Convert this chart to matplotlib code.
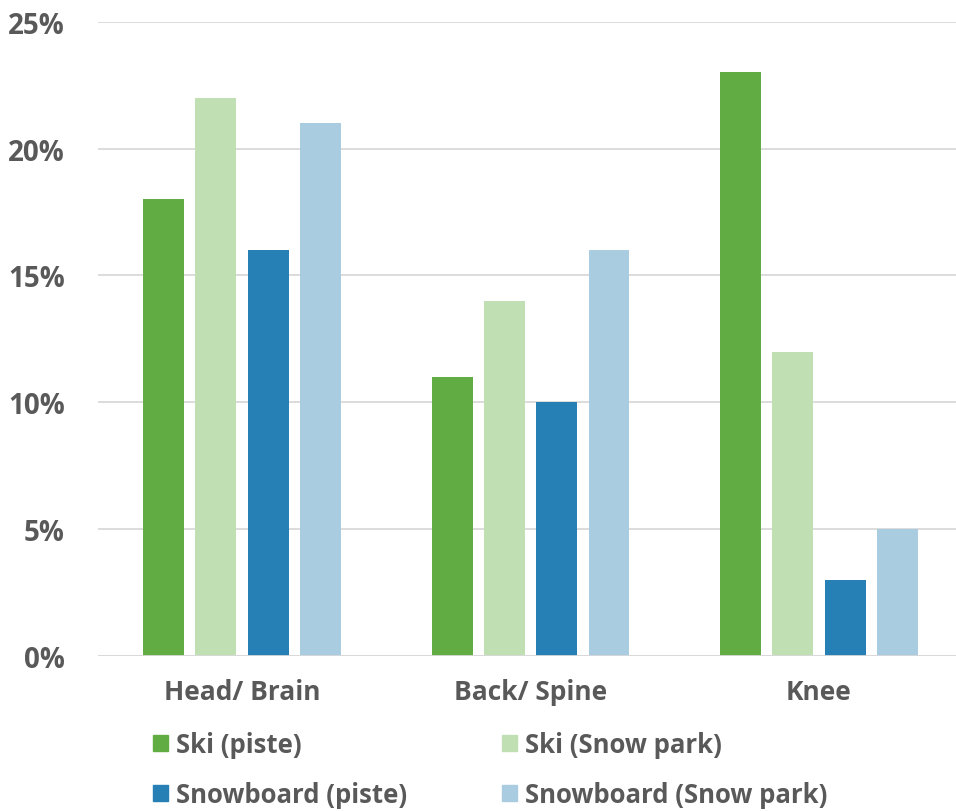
import numpy as np
import matplotlib
matplotlib.use("Agg")
import matplotlib.pyplot as plt
from matplotlib.patches import Patch

categories = ["Head/ Brain", "Back/ Spine", "Knee"]
series = ["Ski (piste)", "Ski (Snow park)", "Snowboard (piste)", "Snowboard (Snow park)"]
ski_piste = [18, 11, 23]
ski_park = [22, 14, 12]
board_piste = [16, 10, 3]
board_park = [21, 16, 5]
colors = ["#62ad43", "#c0e0b3", "#267fb5", "#a9cce0"]

TXT = "#595959"
plt.rcParams["font.family"] = ["Open Sans", "DejaVu Sans"]
plt.rcParams["font.weight"] = "bold"

fig = plt.figure(figsize=(9.56, 8.12), dpi=100)
ax = fig.add_axes([0.1025, 0.191, 0.905, 0.781])

x = np.arange(len(categories))
offsets = [-0.272, -0.091, 0.091, 0.272]
for vals, off, c, name in zip([ski_piste, ski_park, board_piste, board_park],
                              offsets, colors, series):
    ax.bar(x + off, vals, width=0.142, color=c, label=name, zorder=3)

ax.set_xlim(-0.5, 2.5)
ax.set_ylim(0, 25)
ax.set_yticks(range(0, 26, 5))
ax.set_yticklabels([f"{v}%" for v in range(0, 26, 5)])
ax.set_xticks(x)
ax.set_xticklabels(categories)
ax.tick_params(length=0, labelsize=19, colors=TXT)
ax.tick_params(axis="y", labelsize=20, pad=24)
ax.tick_params(axis="x", pad=16)
ax.grid(axis="y", color="#d9d9d9", linewidth=1.3, zorder=0)
for s in ax.spines.values():
    s.set_visible(False)
ax.axhline(0, color="#d9d9d9", linewidth=1.3, zorder=4)

# legend fills column-wise: reorder so rows read ski / snowboard
order = [0, 2, 1, 3]
handles = [Patch(color=colors[i]) for i in order]
labels = [series[i] for i in order]
fig.legend(handles, labels, ncol=2, loc="lower left",
           bbox_to_anchor=(0.1355, -0.025), frameon=False,
           prop={"size": 18.5, "weight": "bold"}, labelcolor=TXT,
           handlelength=0.6, handleheight=0.6, handletextpad=0.3,
           columnspacing=3.7, labelspacing=0.9)

fig.savefig("out.png", dpi=100)
